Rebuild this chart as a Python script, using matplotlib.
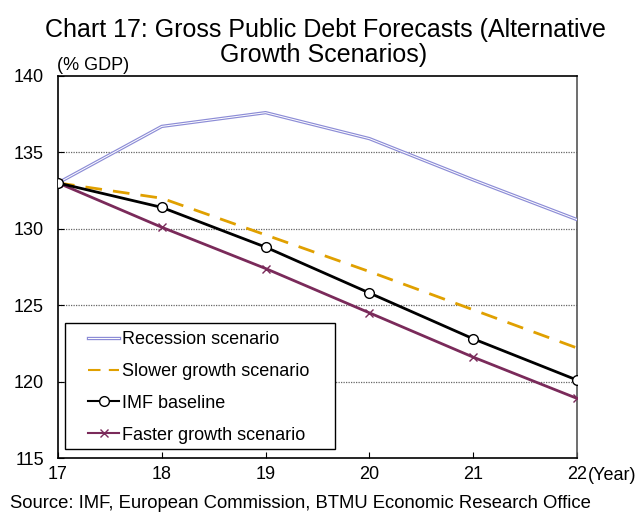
import matplotlib.pyplot as plt
import matplotlib.patheffects as pe
from matplotlib.patches import Rectangle

plt.rcParams['font.family'] = ['Liberation Sans', 'DejaVu Sans']

years = [17, 18, 19, 20, 21, 22]
recession = [133.0, 136.7, 137.6, 135.9, 133.2, 130.6]
slower = [133.0, 132.0, 129.6, 127.2, 124.7, 122.2]
imf_baseline = [133.0, 131.4, 128.8, 125.8, 122.8, 120.1]
faster = [133.0, 130.1, 127.4, 124.5, 121.6, 118.9]
title_lines = ['Chart 17: Gross Public Debt Forecasts (Alternative', 'Growth Scenarios)']

fig = plt.figure(figsize=(6.4, 5.13), dpi=100)
ax = fig.add_axes([0.0906, 0.1072, 0.811, 0.7447])

# double line for the recession scenario
ax.plot(years, recession, color='#8c8cd6', linewidth=2.4,
        path_effects=[pe.Stroke(linewidth=2.4, foreground='#8c8cd6'),
                      pe.Stroke(linewidth=0.7, foreground='white')],
        label='Recession scenario', zorder=3)
ax.plot(years, slower, color='#e0a000', linewidth=2, dashes=(6, 4),
        label='Slower growth scenario', zorder=3)
ax.plot(years, imf_baseline, color='black', linewidth=2, marker='o',
        markersize=7, markerfacecolor='white', markeredgecolor='black',
        markeredgewidth=1, label='IMF baseline', zorder=4)
ax.plot(years, faster, color='#7a2a5a', linewidth=2, marker='x',
        markersize=6, markeredgewidth=1, label='Faster growth scenario', zorder=3)

ax.set_xlim(17, 22)
ax.set_ylim(115, 140)
ax.set_xticks(years)
ax.set_xticklabels([str(y) for y in years])
ax.set_yticks([115, 120, 125, 130, 135, 140])
ax.tick_params(direction='in', labelsize=13, length=4)
ax.tick_params(axis='x', pad=6)
ax.tick_params(axis='y', pad=10)
for y in [120, 125, 130, 135]:
    ax.axhline(y, color='#666666', linewidth=0.9, linestyle=(0, (1, 1)), zorder=1)
for s in ax.spines.values():
    s.set_linewidth(1.2)
ax.spines['right'].set_color('#555555')

# legend box drawn separately, legend itself frameless
ax.add_patch(Rectangle((0.0135, 0.0236), 0.5205, 0.3294, transform=ax.transAxes,
                       facecolor='white', edgecolor='black', linewidth=1, zorder=5))
leg = ax.legend(loc='upper left', bbox_to_anchor=(0.058, 0.332),
                borderaxespad=0, borderpad=0, fontsize=13, frameon=False,
                handlelength=1.72, handletextpad=0.17, labelspacing=0.82)
leg.set_zorder(6)
for h in leg.legend_handles:
    h.set_linewidth(1.5)

# title in two separate lines
fig.text(0.508, 1 - 30 / 513, title_lines[0], ha='center', va='center', fontsize=18)
fig.text(0.505, 1 - 55 / 513, title_lines[1], ha='center', va='center', fontsize=18)
fig.text(0.089, 0.855, '(% GDP)', ha='left', va='bottom', fontsize=13)
fig.text(0.918, 0.074, '(Year)', ha='left', va='center', fontsize=13)
fig.text(0.016, 0.018, 'Source: IMF, European Commission, BTMU Economic Research Office',
         ha='left', va='center', fontsize=13.3)

fig.savefig('out.png', dpi=100)
